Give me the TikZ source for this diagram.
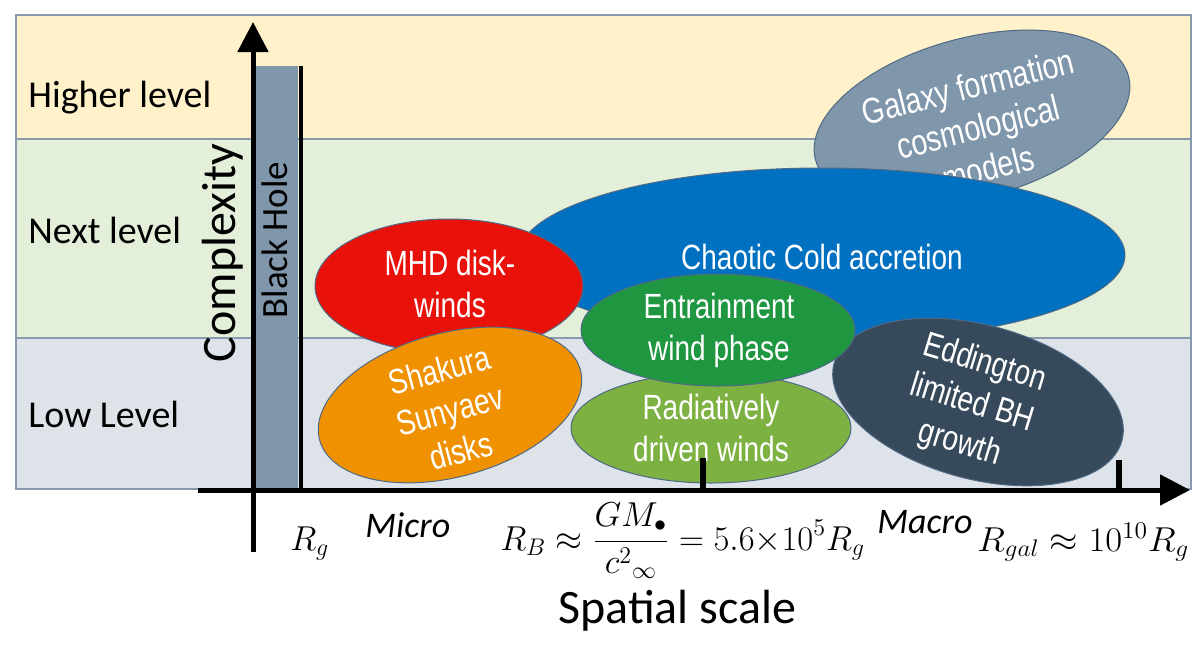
\documentclass[tikz,border=0pt]{standalone}
\usepackage{fontspec}
\usetikzlibrary{arrows.meta,shapes.geometric}
\setmainfont{Carlito}
\newfontfamily\cali{Carlito}
\newfontfamily\arn[FakeStretch=0.8]{Liberation Sans}
\definecolor{hicol}{HTML}{FFF1C9}
\definecolor{nxcol}{HTML}{E3EFD9}
\definecolor{locol}{HTML}{DEE3EA}
\definecolor{bandline}{HTML}{8A9AAE}
\definecolor{bhcol}{HTML}{7F96AB}
\definecolor{galcol}{HTML}{7F96AB}
\definecolor{ccacol}{HTML}{0070C0}
\definecolor{mhdcol}{HTML}{E8120B}
\definecolor{ssdcol}{HTML}{EF9100}
\definecolor{entcol}{HTML}{1F9640}
\definecolor{radcol}{HTML}{7DB142}
\definecolor{eddcol}{HTML}{374A5B}
\definecolor{blobline}{HTML}{4F6A86}
\begin{document}
\begin{tikzpicture}[x=0.5pt,y=-0.5pt,
  band/.style={draw=bandline, line width=0.6pt},
  lvl/.style={anchor=base west, inner sep=0, font=\cali\fontsize{19}{22}\selectfont},
  blob/.style={ellipse, draw=blobline, line width=0.5pt, inner sep=0},
  btxt/.style={text=white, align=center, inner sep=0, font=\arn\fontsize{17.5}{21}\selectfont},
  axisline/.style={line width=2.5pt, -{Triangle[length=15pt,width=15pt]}},
  mlab/.style={anchor=base west, inner sep=0, font=\fontsize{17.28}{20}\selectfont},
  wlab/.style={anchor=base west, inner sep=0, font=\cali\itshape\fontsize{18}{21}\selectfont},
  tick/.style={line width=3pt}
]
\useasboundingbox (0,0) rectangle (1200,649);
\fill[white] (0,0) rectangle (1200,649);
% bands
\draw[band, fill=hicol] (16,15) rectangle (1191,139);
\draw[band, fill=nxcol] (16,139) rectangle (1191,338);
\draw[band, fill=locol] (16,338) rectangle (1191,489);
\node[lvl] (hl) at (28,107) {Higher level};
\node[lvl] (nl) at (28,243) {Next level};
\node[lvl] (ll) at (28,427) {Low Level};
% black hole bar
\fill[bhcol] (255,66) rectangle (298,489);
\coordinate (bht) at (301,66);
\coordinate (bhb) at (301,489);
\draw[line width=2pt] (bht) -- (bhb);
\node[rotate=90, anchor=base, inner sep=0, font=\cali\fontsize{18.5}{22}\selectfont] (bh) at (287,240) {Black Hole};
% ellipses
\node[blob, fill=galcol, minimum width=162pt, minimum height=80pt, rotate=15] (gal) at (972,118) {};
\node[btxt, rotate=14, font=\arn\fontsize{18}{21}\selectfont] (galt) at (978,127) {Galaxy formation\\cosmological\\models};
\node[blob, fill=ccacol, minimum width=303pt, minimum height=87pt] (cca) at (822,255) {};
\node[btxt] (ccat) at (822,257) {Chaotic Cold accretion};
\node[blob, fill=eddcol, minimum width=149pt, minimum height=77pt, rotate=-15] (edd) at (978,402) {};
\node[btxt, rotate=-17] (eddt) at (972,404) {Eddington\\limited BH\\growth};
\node[blob, fill=mhdcol, minimum width=134pt, minimum height=67pt] (mhd) at (449,286) {};
\node[btxt] (mhdt) at (450,284) {MHD disk-\\winds};
\node[blob, fill=ssdcol, minimum width=135pt, minimum height=72pt, rotate=15] (ssd) at (450,405) {};
\node[btxt, rotate=15] (ssdt) at (450,410) {Shakura\\Sunyaev\\disks};
\node[blob, fill=radcol, minimum width=140pt, minimum height=55pt] (rad) at (711,428) {};
\node[btxt] (radt) at (711,428) {Radiatively\\driven winds};
\node[blob, fill=entcol, minimum width=137pt, minimum height=56pt] (ent) at (718,330) {};
\node[btxt] (entt) at (719,330) {Entrainment\\wind phase};
% ticks
\coordinate (t1a) at (703,458); \coordinate (t1b) at (703,490);
\coordinate (t2a) at (1119,460); \coordinate (t2b) at (1119,490);
\draw[tick] (t1a) -- (t1b);
\draw[tick] (t2a) -- (t2b);
% axes
\coordinate (yb) at (253,552); \coordinate (yt) at (253,22);
\coordinate (xl) at (198,490); \coordinate (xr) at (1190,490);
\draw[axisline] (yb) -- (yt);
\draw[axisline] (xl) -- (xr);
\node[rotate=90, anchor=base, inner sep=0, font=\cali\fontsize{24}{28}\selectfont] (cx) at (235,253) {Complexity};
% bottom labels
\node[mlab] (rg) at (290,550) {$R_g$};
\node[wlab] (micro) at (365,537) {Micro};
\node[mlab] (rb) at (500,550) {$\displaystyle R_B \approx \frac{GM_{\bullet}}{c^{2}{}_{\infty}} = 5.6{\times}10^5R_g$};
\node[wlab] (macro) at (877,533) {Macro};
\node[mlab] (rgal) at (977,551) {\scalebox{1.06}[1]{$R_{gal}\approx 10^{10}R_g$}};
\node[anchor=base west, inner sep=0, font=\cali\fontsize{24}{28}\selectfont] (ss) at (558,623) {Spatial scale};
\end{tikzpicture}
\end{document}
